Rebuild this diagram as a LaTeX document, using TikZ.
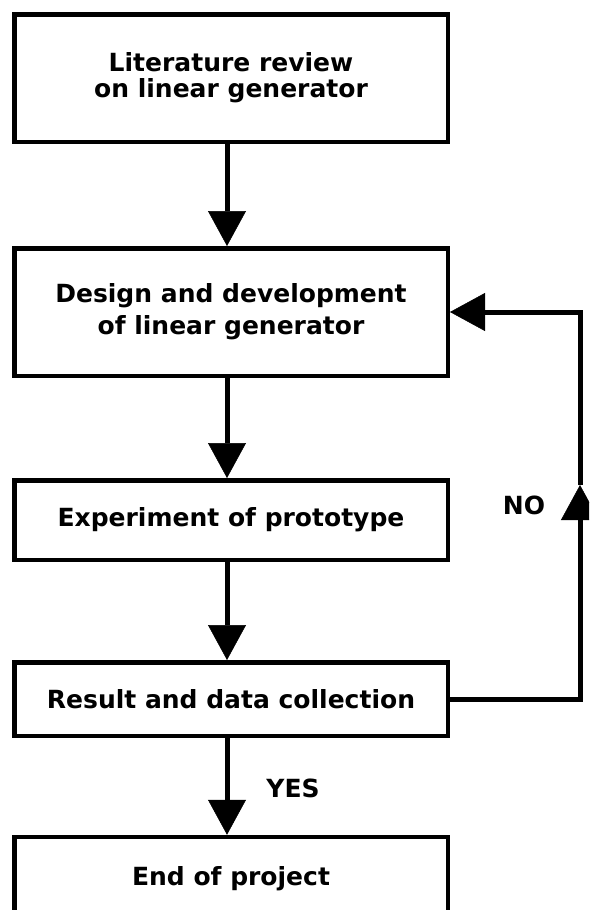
\documentclass[tikz,border=0pt]{standalone}
\usepackage{fontspec}
\setmainfont{DejaVu Sans}
\usetikzlibrary{arrows.meta}
\begin{document}
\begin{tikzpicture}[x=1pt,y=-1pt,
  box/.style={draw,line width=4.5pt,minimum width=433.5pt,inner sep=0pt,
    font=\fontsize{25}{30}\selectfont\bfseries,align=center},
  conn/.style={line width=5pt,
    -{Triangle[width=38pt,length=35pt,line width=0.5pt]}},
  lbl/.style={font=\fontsize{25}{30}\selectfont\bfseries,inner sep=0pt}]
\useasboundingbox (0,0) rectangle (589,910);
\clip (0,0) rectangle (589,910);
\node[box,minimum height=127.5pt] (a) at (231,78)
  {Literature review\\[-4pt]on linear generator};
\node[box,minimum height=127.5pt] (b) at (231,312)
  {Design and development\\[2pt]of linear generator};
\node[box,minimum height=79.5pt] (c) at (231,520) {Experiment of prototype};
\node[box,minimum height=73.5pt] (d) at (231,699) {Result and data collection};
\node[box,minimum height=84pt] (e) at (231,879) {End of project};
\draw[conn] ([xshift=-4pt]a.south) -- ([xshift=-4pt]b.north);
\draw[conn] ([xshift=-4pt]b.south) -- ([xshift=-4pt]c.north);
\draw[conn] ([xshift=-4pt]c.south) -- ([xshift=-4pt]d.north);
\draw[conn] ([xshift=-4pt]d.south) -- ([xshift=-4pt]e.north);
\coordinate (lm) at (580,485);
\draw[conn] (d.east) -| (lm);
\draw[conn] (lm) |- (b.east);
\node[lbl] (no) at (524,505) {NO};
\node[lbl] (yes) at (293,788) {YES};
\end{tikzpicture}
\end{document}
